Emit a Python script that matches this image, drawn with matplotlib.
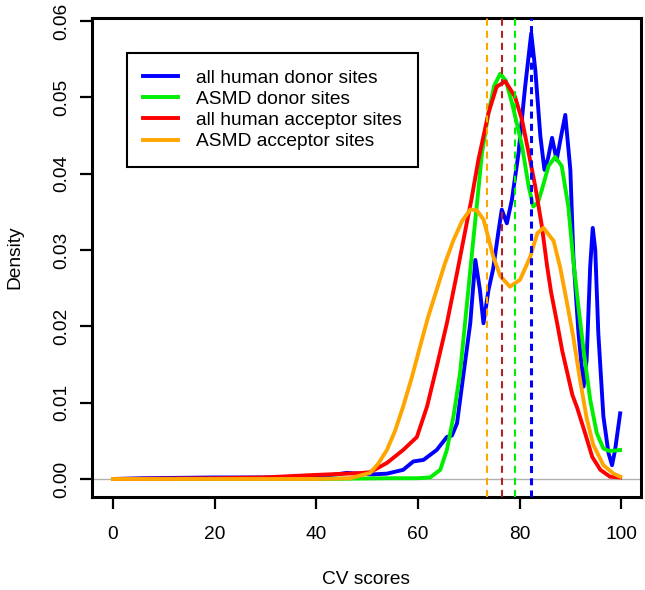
import numpy as np
import matplotlib
matplotlib.use('Agg')
import matplotlib.pyplot as plt

plt.rcParams['font.family'] = ['Liberation Sans', 'DejaVu Sans']

# all human donor sites (blue)
donor_x = [0, 6, 20, 30, 40, 44, 46, 48.5, 51, 53.9, 57.1, 59.1, 61.1, 63.7, 65.7, 66.7, 67.7, 69,
           70.3, 71.3, 72.2, 72.9, 73.9, 74.8, 75.8, 76.5, 77.5, 78.5, 79.8, 81.1, 82.3, 83.1, 84.1,
           84.9, 85.6, 86.4, 87.3, 88.2, 89, 90, 90.6, 91.6, 92.6, 93.2, 93.9, 94.4, 94.9, 95.5, 96.5,
           97.5, 98.2, 98.8, 99.8]
donor_y = [0.0, 0.0001, 0.0002, 0.0002, 0.0003, 0.0006, 0.0008, 0.0007, 0.0006, 0.0007, 0.0012,
           0.0023, 0.0025, 0.0038, 0.0055, 0.0057, 0.0073, 0.0139, 0.0204, 0.0287, 0.0248, 0.0204,
           0.0248, 0.0275, 0.0322, 0.0353, 0.0335, 0.0366, 0.0427, 0.0514, 0.0584, 0.0536, 0.0449,
           0.0405, 0.042, 0.0447, 0.0418, 0.045, 0.0477, 0.0405, 0.029, 0.0191, 0.0121, 0.0156,
           0.0278, 0.0329, 0.030, 0.0191, 0.0082, 0.0034, 0.0018, 0.0038, 0.0086]

# ASMD donor sites (green)
asmd_donor_x = [0, 40, 55, 60, 62.4, 64.4, 65.7, 67, 68.3, 69.6, 70.9, 71.9, 72.6, 73.9, 75, 76.2,
                77.3, 78.5, 79.5, 80.5, 81.8, 82.7, 83.6, 84.4, 85.7, 87, 88.3, 89.6, 90.6, 91.6,
                92.6, 93.9, 95.2, 96.5, 97.5, 98.5, 99.8]
asmd_donor_y = [0.0, 0.0, 0.0001, 0.0001, 0.0002, 0.0012, 0.0038, 0.0082, 0.0139, 0.0226, 0.0313,
                0.0379, 0.0427, 0.048, 0.0515, 0.0531, 0.0522, 0.0493, 0.0465, 0.0436, 0.0383,
                0.0357, 0.0362, 0.0379, 0.041, 0.0422, 0.041, 0.0357, 0.0285, 0.0225, 0.0169,
                0.0104, 0.006, 0.004, 0.0037, 0.0037, 0.0038]

# all human acceptor sites (red)
acceptor_x = [0, 20, 29.5, 38.8, 46, 49.2, 50.6, 53.9, 57.1, 59.8, 61.8, 63.7, 65.7, 67.7, 69.6,
              70.5, 71.9, 73.9, 75.5, 77.2, 79.1, 80.5, 81.8, 83.1, 84.4, 85.4, 86.2, 87.4, 88.4,
              89.4, 90.4, 91.3, 92.9, 94.3, 95.9, 97.8, 99.8]
acceptor_y = [0.0, 0.0001, 0.0002, 0.0005, 0.0007, 0.0008, 0.0009, 0.0021, 0.0038, 0.0055, 0.0095,
              0.0147, 0.0204, 0.027, 0.0335, 0.0365, 0.0418, 0.048, 0.0514, 0.0521, 0.0501, 0.047,
              0.0427, 0.0383, 0.0331, 0.028, 0.0245, 0.0204, 0.0168, 0.0139, 0.011, 0.0094, 0.006,
              0.0029, 0.0012, 0.0003, 0.0002]

# ASMD acceptor sites (orange)
asmd_acceptor_x = [0, 40, 46.7, 50.6, 52.2, 53.9, 55.5, 57.1, 58.8, 60.4, 62, 63.7, 65.3, 67, 68.7,
                   70.3, 71.6, 72.9, 73.8, 74.8, 76.2, 78.1, 80.1, 82.1, 83.5, 84.7, 86.7, 88, 89.3,
                   90.6, 91.9, 93.2, 94.5, 96.5, 98.5, 99.8]
asmd_acceptor_y = [0.0, 0.0, 0.0001, 0.0008, 0.002, 0.0038, 0.0063, 0.0095, 0.0133, 0.0173, 0.0212,
                   0.0248, 0.0282, 0.0313, 0.0338, 0.0353, 0.0352, 0.034, 0.0318, 0.0292, 0.0266,
                   0.0252, 0.0261, 0.0291, 0.0322, 0.0329, 0.0312, 0.0277, 0.0232, 0.0185, 0.013,
                   0.008, 0.0045, 0.0018, 0.0007, 0.0003]

# mean CV score of each group (dashed vertical lines)
mean_asmd_acceptor = 73.6
mean_acceptor = 76.6
mean_asmd_donor = 79.1
mean_donor = 82.3

labels = ['all human donor sites', 'ASMD donor sites', 'all human acceptor sites', 'ASMD acceptor sites']

fig = plt.figure(figsize=(6.45, 5.9), dpi=100)
ax = fig.add_axes([92 / 645, 1 - 497 / 590, 549 / 645, 479 / 590])

ax.axhline(0, color='#b0b0b0', lw=1, zorder=1)

ax.plot(donor_x, donor_y, color='#0000ff', lw=2.8, label=labels[0], zorder=3)
ax.plot(asmd_donor_x, asmd_donor_y, color='#00ee00', lw=2.8, label=labels[1], zorder=3)
ax.plot(acceptor_x, acceptor_y, color='#ff0000', lw=2.8, label=labels[2], zorder=3)
ax.plot(asmd_acceptor_x, asmd_acceptor_y, color='#ffa500', lw=2.8, label=labels[3], zorder=3)

ax.axvline(mean_asmd_acceptor, color='#ffa500', lw=1.5, ls=(0, (3.4, 2.4)), zorder=4)
ax.axvline(mean_acceptor, color='#b22222', lw=1.5, ls=(0, (3.4, 2.4)), zorder=4)
ax.axvline(mean_asmd_donor, color='#00ee00', lw=1.5, ls=(0, (3.4, 2.4)), zorder=4)
ax.axvline(mean_donor, color='#0000ff', lw=2.2, ls=(0, (2.3, 1.7)), zorder=4)

ax.set_xlim(-4.13, 103.9)
ax.set_ylim(-0.00236, 0.0604)
ax.set_xticks([0, 20, 40, 60, 80, 100])
ax.set_yticks([0.0, 0.01, 0.02, 0.03, 0.04, 0.05, 0.06])
ax.set_yticklabels(['0.00', '0.01', '0.02', '0.03', '0.04', '0.05', '0.06'], rotation=90, va='center')
ax.tick_params(axis='both', length=8.6, width=1.6, labelsize=13.8)
ax.tick_params(axis='x', pad=12)
ax.tick_params(axis='y', pad=7)
for sp in ax.spines.values():
    sp.set_linewidth(2.2)

ax.set_xlabel('CV scores', fontsize=13.8)
ax.set_ylabel('Density', fontsize=13.8)
ax.xaxis.set_label_coords(0.5, -0.1545)
ax.yaxis.set_label_coords(-0.125, 0.5)

leg = ax.legend(loc='upper left', bbox_to_anchor=(0.064, 0.927), fancybox=False, framealpha=1,
                edgecolor='black', fontsize=13.8, handlelength=1.8, handletextpad=0.95,
                borderpad=0.85, labelspacing=0.2, borderaxespad=0)
leg.get_frame().set_linewidth(1.5)

fig.savefig('out.png', dpi=100)
